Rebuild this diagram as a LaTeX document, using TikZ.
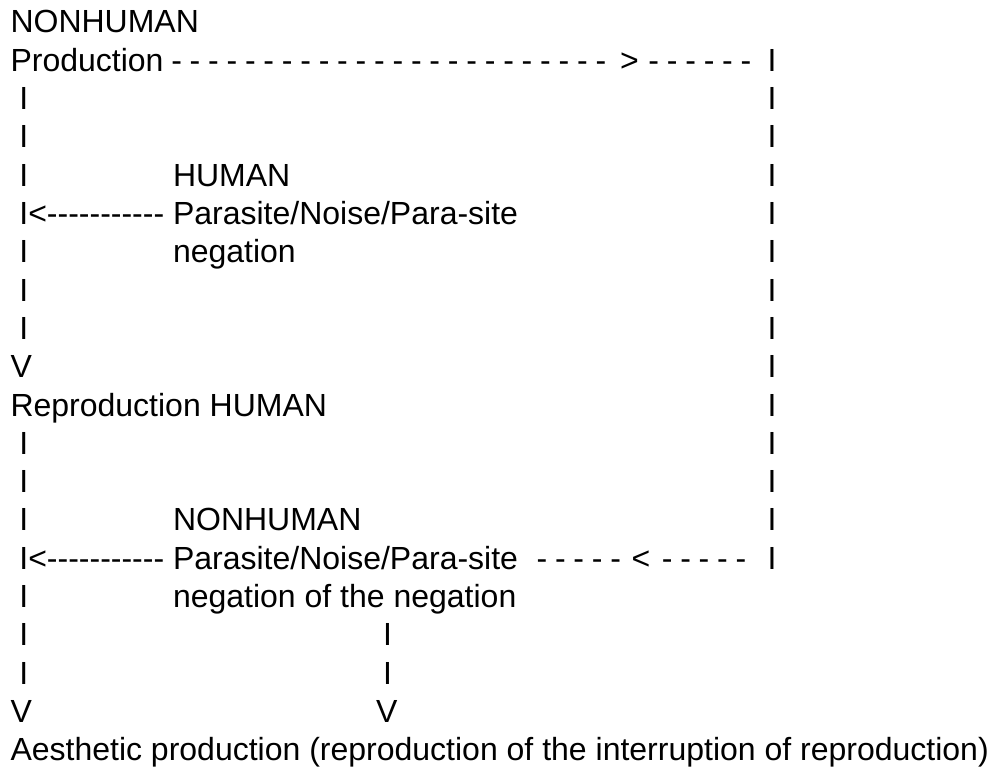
\documentclass[tikz,border=0pt]{standalone}
\usepackage{fontspec}
\setmainfont{Liberation Sans}[Ligatures=TeXOff]
\begin{document}
\begin{tikzpicture}[x=1pt, y=-1pt,
	every node/.style={anchor=base west, inner sep=0pt, outer sep=0pt,
		font=\fontsize{32}{38}\selectfont},
	dashrun/.style={execute at begin node={\spaceskip=7.79pt\relax}}]

\useasboundingbox (0,0) rectangle (991,767);

\pgfmathsetmacro{\rowgap}{38.3}
\pgfmathsetmacro{\firstrow}{33}
\pgfmathsetmacro{\leftcol}{10.5}
\pgfmathsetmacro{\tabcol}{173}
\pgfmathsetmacro{\midcol}{383}
\pgfmathsetmacro{\rightcol}{767.5}

% The bars
\foreach \r in {3,4,5,7,8,9,12,13,14,16,17,18}{
	\node (lbar-\r) at (\leftcol, {\firstrow+(\r-1)*\rowgap}) {\ I};
}
\foreach \r in {2,...,15}{
	\node (rbar-\r) at (\rightcol, {\firstrow+(\r-1)*\rowgap}) {I};
}
\foreach \r in {17,18}{
	\node (mbar-\r) at (\midcol, {\firstrow+(\r-1)*\rowgap}) {I};
}

% Arrow heads
\node (lv-10) at (\leftcol, {\firstrow+9*\rowgap}) {V};
\node (lv-19) at (\leftcol, {\firstrow+18*\rowgap}) {V};
\node (mv-19) at (\midcol-7, {\firstrow+18*\rowgap}) {V};
\node (larrow-6) at (\leftcol, {\firstrow+5*\rowgap}) {\ I<-----------};
\node (larrow-15) at (\leftcol, {\firstrow+14*\rowgap}) {\ I<-----------};

% Dashed runs
\node[dashrun] (forward) at (171.25, {\firstrow+\rowgap})
	{- - - - - - - - - - - - - - - - - - - - - - - -\hspace{13.9pt}>\hspace{9.7pt}- - - - - -};
\node[dashrun] (backward) at (536.6, {\firstrow+14*\rowgap})
	{- - - - -\hspace{10.7pt}<\hspace{11.4pt}- - - - -};

% The texts
\node (nonhuman) at (\leftcol, \firstrow) {NONHUMAN};
\node (production) at (\leftcol, {\firstrow+\rowgap}) {Production};
\node (human) at (\tabcol, {\firstrow+4*\rowgap}) {HUMAN};
\node (parasite) at (\tabcol, {\firstrow+5*\rowgap}) {Parasite/Noise/Para-site};
\node (negation) at (\tabcol, {\firstrow+6*\rowgap}) {negation};
\node (reproduction) at (\leftcol, {\firstrow+10*\rowgap}) {Reproduction HUMAN};
\node (nonhuman-2) at (\tabcol, {\firstrow+13*\rowgap}) {NONHUMAN};
\node (parasite-2) at (\tabcol, {\firstrow+14*\rowgap}) {Parasite/Noise/Para-site};
\node (negation-2) at (\tabcol, {\firstrow+15*\rowgap}) {negation of the negation};
\node (aesthetic) at (\leftcol, {\firstrow+19*\rowgap})
	{Aesthetic production (reproduction of the interruption of reproduction)};
\end{tikzpicture}
\end{document}
